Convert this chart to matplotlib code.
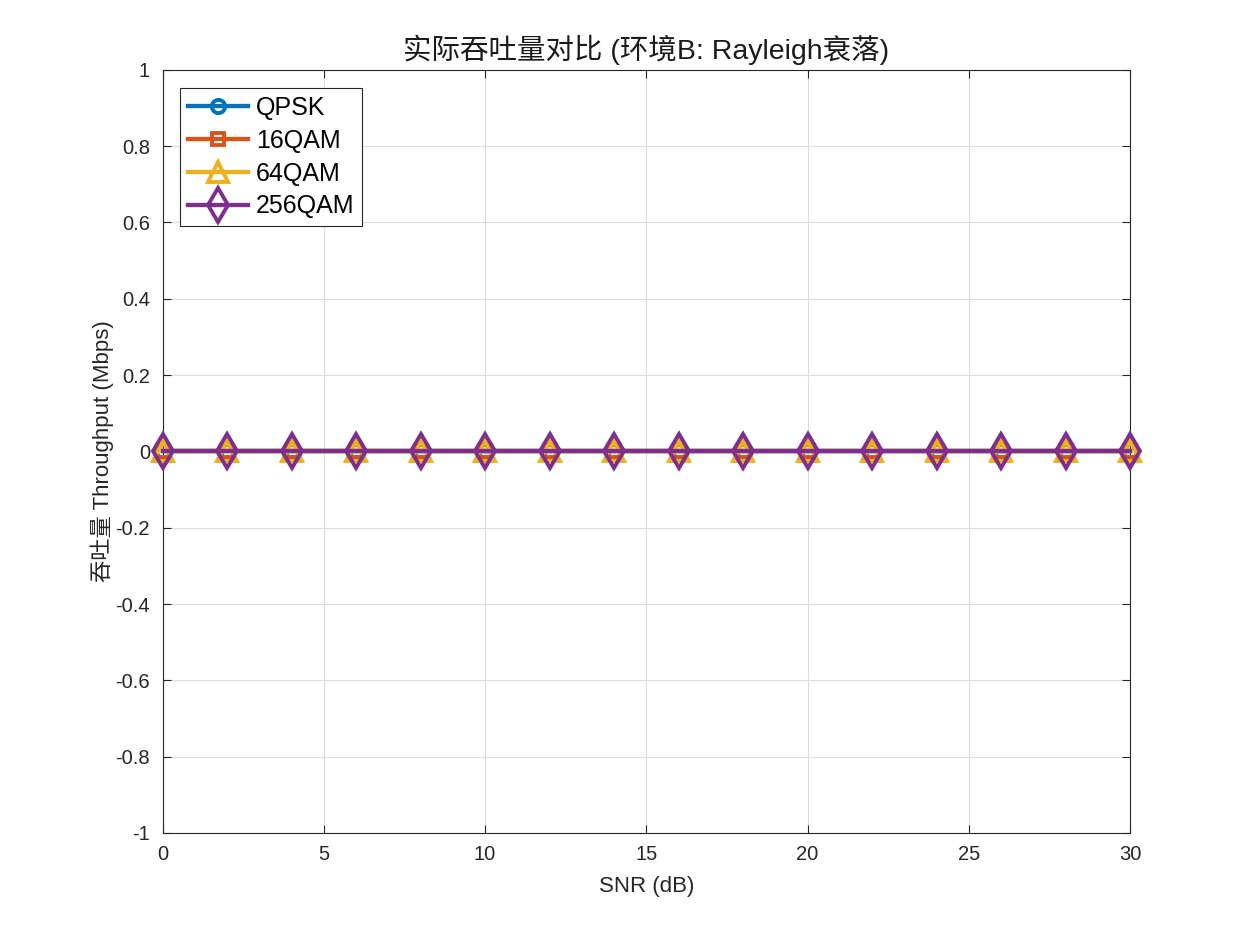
import numpy as np
import matplotlib
matplotlib.use("Agg")
import matplotlib.pyplot as plt

plt.rcParams['font.family'] = ['Liberation Sans', 'Noto Sans CJK SC', 'DejaVu Sans']

# data: SNR sweep, measured throughput per modulation (all zero here)
snr_db = [0, 2, 4, 6, 8, 10, 12, 14, 16, 18, 20, 22, 24, 26, 28, 30]
thr_qpsk = [0, 0, 0, 0, 0, 0, 0, 0, 0, 0, 0, 0, 0, 0, 0, 0]
thr_16qam = [0, 0, 0, 0, 0, 0, 0, 0, 0, 0, 0, 0, 0, 0, 0, 0]
thr_64qam = [0, 0, 0, 0, 0, 0, 0, 0, 0, 0, 0, 0, 0, 0, 0, 0]
thr_256qam = [0, 0, 0, 0, 0, 0, 0, 0, 0, 0, 0, 0, 0, 0, 0, 0]
names = ['QPSK', '16QAM', '64QAM', '256QAM']

series = [thr_qpsk, thr_16qam, thr_64qam, thr_256qam]
colors = ['#0072BD', '#D95319', '#EDB120', '#7E2F8E']
markers = ['o', 's', '^', 'd']
msizes = [9.5, 8.5, 15, 17]

fig = plt.figure(figsize=(12.5, 9.38), dpi=100)
ax = fig.add_axes([0.13, 0.112, 0.774, 0.8135])

for y, c, m, ms, n in zip(series, colors, markers, msizes, names):
    ax.plot(snr_db, y, color=c, marker=m, markersize=ms, markerfacecolor='none',
            markeredgewidth=2.8, linewidth=3.1, label=n, clip_on=False, zorder=3)

ax.set_xlim(0, 30)
ax.set_ylim(-1, 1)
ax.set_xticks(np.arange(0, 31, 5))
ax.set_yticks(np.round(np.arange(-1, 1.01, 0.2), 1))
ax.set_yticklabels(['-1', '-0.8', '-0.6', '-0.4', '-0.2', '0', '0.2', '0.4', '0.6', '0.8', '1'])

ax.grid(True, color='#dcdcdc', linewidth=0.8)
ax.set_axisbelow(True)
ax.tick_params(direction='in', top=True, right=True, labelsize=14.5, colors='#262626',
               length=6, width=0.8, pad=9)
for s in ax.spines.values():
    s.set_color('#262626')
    s.set_linewidth(0.8)

ax.set_title('实际吞吐量对比 (环境B: Rayleigh衰落)', fontsize=20.5, color='#1a1a1a', pad=8)
ax.set_xlabel('SNR (dB)', fontsize=16, color='#262626', labelpad=8)
ax.set_ylabel('吞吐量 Throughput (Mbps)', fontsize=16, color='#262626', labelpad=1)

leg = ax.legend(loc='upper left', bbox_to_anchor=(0.0186, 0.976), borderaxespad=0,
                fontsize=18, fancybox=False, framealpha=1, edgecolor='#262626',
                handlelength=2.4, borderpad=0.32, labelspacing=0.35, handletextpad=0.3)
leg.get_frame().set_linewidth(0.8)

fig.savefig('out.png', dpi=100)
